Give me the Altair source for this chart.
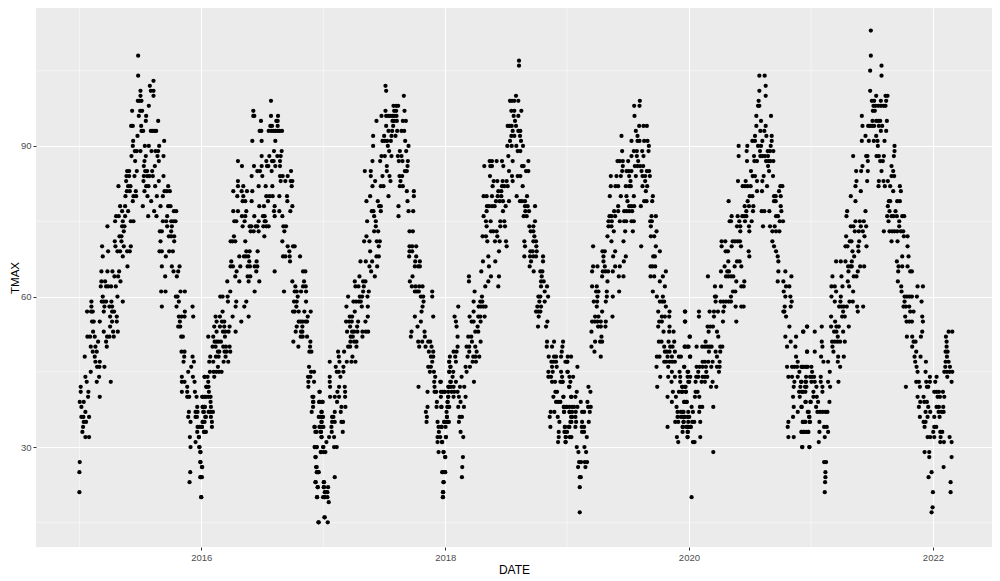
import altair as alt
import pandas as pd

# Each table: TMAX value -> days counted from 1 January of that year
Y2015 = {108:[176],104:[176],103:[222],102:[211],101:[183,214,222],100:[183,222],99:[175,180,186],98:[208],97:[158,182,188],96:[178,200],95:[199,236],94:[155,160,185],93:[186,191,214,220,226,230],92:[174],91:[161,254],90:[160,196,208,239],89:[166,172,183,216,228,236],88:[156,199,234,252],87:[167,195,238],86:[193,226],85:[143,149,172,197,203,218],84:[141,149,165,193,203,210,220,252],83:[140,192,238],82:[117,146,153,200,207,227,266],81:[142,151,169,195,255,262,271],80:[138,162,170,204,232,250],79:[160,215],78:[122,137,190,243,266,273],77:[128,146,224,283,290],76:[110,118,137,206,231,263],75:[107,130,154,162,250,260,275,282,288],74:[84,128,135,263,277],73:[133,241,247,275],72:[120,126,268,275,284],71:[106,126,243,284],70:[68,108,133,154],69:[86,114,122,143,151,240,247,269,280],68:[70,130,259],66:[144,247,277,300],65:[66,84,99,119,282,296],64:[105,116,257,292],63:[66,77,123],62:[64,80,86,95,109],61:[245,258,303,316],60:[70,114,289,294],59:[36,67,73,80,96,130,298],58:[36,75,90,98,247,291,339],57:[23,35,40,73,98,104,316],56:[92,112,298,306,315,341],55:[38,43,61,98,112,301],54:[92,296,302],53:[41,73,101,115],52:[24,32,46,83,90,103,305,310],51:[56,80],50:[34,48,82],49:[40,52,306,315],48:[16,46,314,339],47:[48,61,312,343],46:[53,60,75,335],45:[34,326],44:[18,59,307,340,375],43:[22,52,94,307,315,345],42:[4,323,380],41:[4,27,307,323,346],40:[26,61,323,329,351,368,375],39:[1,13],38:[6,353,370,376],37:[18,328,348,354,373],36:[6,12,29,326,348,352,377],35:[13,20,333,370],34:[11,354,367],33:[9,353,375],32:[18,29,331,358],31:[348],30:[333,359],29:[362],27:[1,363],26:[367],25:[0,332],24:[362,367],23:[330],21:[0],20:[365]}
Y2016 = {99:[209],97:[156],96:[156,159,209,230],95:[179,225,229],94:[207,212,229],93:[175,180,202,210,217,223,229,235,242],91:[153,181,222],89:[218,241],88:[181,204,228,238],87:[110,195,212,217,236],86:[122,158,181,197,201,222,236],85:[168,176,211,269],84:[151,183,236,244,259],83:[110,238,252,268,273],82:[110,126,172,193,213,271],81:[96,121,137,153],80:[108,126,195,205,214,234,257],79:[124,132,151,200,258],78:[174,188,220,273],77:[96,110,135,218,234,267],76:[122,132,159,185,190,220,243],75:[99,105,130,172,190,193],74:[124,145,150,163,168,186,195,202,246,254],73:[148,157,172,249],72:[98,189],71:[88,94,102,132,243],70:[259,275,280],69:[135,145,169,264],68:[114,128,134,141,245,252,265,296],67:[90,144,166,266],66:[88,95,117,139,146,160,168],65:[106,165,220,305,312],64:[102,139,147],63:[78,114,142,174,273,308],62:[282,305,313],61:[87,160,248,280,286,299,314],60:[57,64,79,289],59:[80,105,135,278,286,314],58:[103,129,285],57:[64,275,280,292,309,328],56:[43,56,94,142,319],55:[46,62,69,120,292,298,304,312,317],54:[39,56,69,85,286,303],53:[46,65,72,82,103,283,299,303],52:[21,36,71,298,304,317],51:[40,46,52,59,276,327],50:[34,43,66,74,85,291,326],49:[50,54,70,76,87,324,330],48:[27,44,52,73],47:[24,36,67,81],46:[50,323],45:[26,37,45,53,61,329,338],44:[10,19,39,320,327],43:[21,321,338],42:[16,22,321],41:[23,354],40:[4,14,21,28,333],39:[28,335,353,362],38:[4,10,29,335],37:[6,22,28,35,331,360],36:[14,29,352,362],35:[4,10,32,360],34:[-5,2,32,339,354,362],33:[8,14,342,358],32:[-7,360],30:[-5,340,346,365],29:[-2,358,367],28:[342],27:[-3],26:[3,344],25:[346,351],24:[-1],23:[342,367],22:[349,367],21:[370],20:[0,347,365,370],16:[369],15:[351]}
Y2017 = {102:[186],101:[188],100:[241],98:[210,218,224],97:[186,212,218,243],96:[174,188,194,200,207,212,219],95:[159,207,212,220,238,247],94:[188,209],93:[195,206,221,234,242],92:[149,182,204,216],91:[177,184,191,202,245],90:[149,193,255],89:[197,229,248],88:[174,184,204,223,234],87:[147,170,226,237,253],86:[190,252],85:[124,142,190,244,250],84:[142,177,198,228,236],83:[155,201,231],82:[147,172,180,229,238],81:[250,271],80:[140,195,271],79:[129,163,252],78:[167,172,225],77:[145,150,172,255,269],76:[152,225],75:[131,157],74:[157],73:[152,164,258,268],72:[129],71:[122,138,160,169],70:[166,258,266,278],69:[140,258,266],68:[159,166,257,278],67:[111,127,146,275,289],66:[138,161,274,284,289],65:[143],64:[108,154,267],63:[94,119,126,259],62:[96,105,121,265,276,287,297],61:[119,136,274,280,286,326],60:[74,109,116,132,292,299,326],59:[90,98,106,112,300],58:[69,115,133,297],57:[94,294],56:[79,86,133,274,329],55:[68,77,85,104,126,292],54:[80,101,282],53:[71,86,92,102,117,127,134,264,303],52:[82,88,117,262,304],51:[81,92,99,284,296,314,320],50:[74,80,99,287,306,324],49:[44,62,316,329],48:[46,87,322,329],47:[19,48,70,84,96,326,377],46:[37,60,314,322,380],45:[40,46,60,319,331,377],44:[19,51,335],43:[19,332,350,380],42:[20,47,64,285,333,376],41:[-11,42,65,312,333,338,352,362,374],40:[-30,20,34,47,65,352,374],39:[-30,-11,-2,41,340,372],38:[54,66,312,339,353,374],37:[-5,34,52,307,369],36:[-8,-1,26,30,310,370],35:[-5,26,34,54,59,309,342,362,372],34:[-26,-10,0,24,345,354],33:[-20,-7,25,58,346],32:[-5,17,32,342,350,367],31:[9,342,356],30:[-26,-20,0,32,40],29:[-7,6,345,360],28:[-23,365],26:[-20],25:[-18,-14,356,364],24:[34],23:[-23,2,360],22:[-17,2,14],21:[6,12,358],20:[-19,3,12,358],19:[16],16:[4],15:[-14,13]}
Y2018 = {107:[221],106:[221],100:[212],99:[194,200,207,219],97:[198,207,228],96:[205,219],95:[209],94:[187,192,199,212],93:[202,219,225],92:[198,207,224],91:[194,227],90:[186,199,213,233],89:[217,225],88:[189],87:[133,140,154,170,202,249],86:[117,135,140,174,230,235],85:[191,242,249],84:[134,200,217,225],83:[145,156,172,184,202],82:[142,170,177,187,232],81:[159,168],80:[115,124,140,157,168,214,245],79:[152,163,173,191,224,230,239],78:[125,131,140,148,181,239,247,269],77:[124,173,240,251],76:[115,235,244],75:[122,136,165,177,269],74:[124,165,179,252,264],73:[137,144,154,256,264],72:[112,122,156,267],71:[126,149,163,182,237,264,272],70:[184,239,273],69:[161,255,262,274],68:[129,237,254,264,272,293],67:[113,150,257,293],66:[131,253],65:[108,265,285,291],64:[71,137,161,289],63:[71,129,287,295],62:[120,159,287,305],61:[88,298],60:[110,279,285,308],59:[85,105,111,282,298],58:[39,100,107,114,121,276,287],57:[85,272,279,285],56:[28,73,99,105,118,280],55:[32,79,85,106,306],54:[34,97,278,302],53:[90,99],52:[37,69,78],51:[80,106,305,326,353],50:[37,64,72,90,304,320,351],49:[25,34,72,94,349],48:[14,30,67,84,91,102,310,326,332,347,367,377],47:[12,32,82,92,318,325,332,365],46:[16,61,74,320,334],45:[12,24,64,309,322,347,367],44:[22,49,309,317,350,372],43:[-13,17,32,86,320,329,345,352,375],42:[9,17,25,44,57,372],41:[-8,-1,19,27,37,330,335],40:[9,25,41,61,324,354,377],39:[7,46,332,339,345],38:[-11,6,12,39,56,355,363,372],37:[316,327,356,372],36:[5,43,50,313,337,377],35:[-3,3,11,41,342,375],34:[-11,1,315,359,370],33:[46,340,357,365],32:[2,54,340,361,373],31:[-10,338,361],29:[-5],28:[0,53],26:[51],25:[-8,0],24:[50],23:[-5],21:[-6],20:[-7]}
Y2019 = {99:[218],98:[201,217],96:[202],94:[216,229,239],93:[206],92:[163,211],91:[193,211,217,231,241],90:[245],89:[165,200,209,225,244],88:[193,209,229],87:[151,158,167,183,213],86:[167,203,211,219,228],85:[165,178,185,193,223,239,246],84:[131,148,161,186,206,226,234,248],83:[190,234],82:[131,145,153,176,186,191,226,240],81:[236],80:[128,161,178,200,257],79:[181,231,238,255],78:[153,186,193,201,221],77:[141,153,171,178,186,195],76:[127,133,144,253,266],75:[124,134,158,171,177,193,200,249,254],74:[124,133,251],73:[140,174,197,268],72:[121,251,261],71:[133,169],70:[78,222,266],69:[106,113,144,278],68:[109,138,176,258,263],67:[109,170],66:[78,91,113,144,158,250,256,264],65:[75,107,115,123,137,296],64:[105,155,169,250,261,287],63:[121,278],62:[75,89,293],61:[87,94,119,156,257],60:[91,119,137,269,287],59:[80,90,116,278,285,291],58:[89,296],57:[105,273,307,354],56:[84,94,136,284,293,306],55:[75,83,91,101,116,276,284,354],54:[93,101,115,273,307],53:[73,289,306,319],52:[103,368],51:[84,99,105,275,283,304,321],50:[73,291,309,316,354,361],49:[82,293,299,307,323],48:[101,269,277,301,314,335,341,368],47:[-5,1,291,297,307,315,323],46:[31,268,303,351],45:[1,314,337,361],44:[18,279,303,323,339,361],43:[-14,313,339,366],42:[6,64,270,345,355],41:[29,70,317,335,343,356],40:[-11,13,25,301,326],39:[41,61,314,351,359],38:[-9,-1,15,21,31,63,71,328],37:[-9,8,15,26,45,51,68,331,341,349,363],36:[15,25,331,341,351,366],35:[13,27,45,65,324,333,349,363],34:[-7,7,25,44,51,301,347,361,369],33:[-5,45,51,346,361],32:[-4,13,59,329,361],31:[-5,333],30:[29,52],29:[34,57],27:[36,42,53,60],26:[33,55],24:[38,41],22:[38],17:[38]}
Y2020 = {104:[211,227],102:[230],101:[211],100:[230],99:[209],98:[207,211],96:[202,246],95:[216],94:[202,230],93:[214,226],92:[198,232,248],91:[190,198,220,248],90:[149,175,207,216,245],89:[173,213,236,243,253],88:[149,195,214,221,228,237],87:[174,196,204,231,238,244,253],86:[237],85:[186,240],84:[191,198,224,252],83:[147,170,204,220],82:[161,168,176,185,234,274,280],81:[204,219,270],80:[182,190,255,260,275],79:[119,176,255,260],78:[167,180,193,275],77:[172,192,218,226,241,277],76:[128,146,160,166,172,261,267],75:[122,126,151,168,188,272,282],74:[144,154,180,222,243,257],73:[154,181,250,261,271],71:[98,109,131,138,146,153,250],70:[98,128,156,255],69:[110,117,179,261],68:[181,266],67:[118,144,152,268],66:[107,137,157],65:[96,115,120,268,289],64:[57,111,118,126,133,307],63:[142,166,266,283],62:[78,96,157,164,291,301],61:[132,139,284],60:[78,81,126,289,304],59:[80,95,103,111,119,126,308],58:[106,140,157,164,287,305],57:[-12,30,62,75,87,103,283,286],56:[30,75,291],55:[-12,102,142],54:[56,64,72,301,354],53:[59,84,342],52:[2,88,289,321],51:[50,305],50:[-13,-1,23,40,48,55,62,68,94,100,294,319],49:[60,80,94,354],48:[4,84,321],47:[41,48,58,71,92,326],46:[-14,23,32,41,51,67,84,92,294,309,316,324,339,348,356],45:[-2,28,52,90,331],44:[4,22,28,41,48,55,298,309,326,351],43:[-2,20,38,48,71,316,336,349],42:[-20,-12,66,82,314,334,348],41:[-19,-9,20,26,330,338],40:[18,31,312,332],39:[-14,-8,349,364],38:[8,33,40,73,314,338],37:[-19,12,31,326,356],36:[-19,-12,-4,312,360],35:[-16,10,16,34,298,341,348,361],34:[-19,-8,-2,6,296],33:[-3,338,344,351,358],32:[-4,34,298,314],31:[12,17],30:[339,361],29:[73],20:[8]}
Y2021 = {113:[179],108:[179],106:[211],105:[177],104:[211],101:[177],100:[195,223,229],99:[182,189,209,225],98:[187,193,201,209,217,223],97:[185,191],96:[152],95:[184,195,201,207,227],94:[154,171,177,183,189,203,213],93:[209,225],92:[163,195],91:[152,173,188,199,220],90:[200,250],89:[250],88:[126,165,169,196,203,218,248],87:[170,207,215],86:[154,241],85:[135,150,170,211,246],84:[241,249],83:[136,168,203,217,230],82:[133,202,221,237,266],81:[149,246,269],80:[119],79:[133,233,237,258,266],78:[230],77:[108,163,235,253],76:[106,228,241,247,257,273,279],75:[133,146,158,232,264],74:[119,127,149,165,264],73:[131,143,155,218,235,243,250,258,269,276],72:[105,160,278,289],71:[116,121,144,241,259],70:[103,109,141,166,289],69:[124,142],68:[129,273,292],67:[75,89,103,122,257],66:[111,118,122,147,159,262,273,289],65:[112,140,261,297,302],64:[64,91,128,136],63:[110,260],62:[61,71,94,114,270,319,335],61:[75,126,271],60:[61,89,280,287,295,302,317],59:[71,88,115,125,280,331],58:[84,91,98,107,138,156,277,284,294],57:[96,140,297,307],56:[60,93,101,282,333],55:[72,286,294,302,335],54:[-12,32,60,76,83,113],53:[-23,11,69,76,96,333,412,423],52:[80,287,303,329,404],51:[32,63,71,79,87,101,307,313,406],50:[34,64,303,406],49:[-12,11,67,315,403,409],48:[30,81,98,310,328,407],47:[37,51,80,312,344,403,412],46:[-29,-24,-14,1,87,316,402,416],45:[3,56,319,343,399,407,415,423],44:[-3,3,9,29,356,376,408],43:[-29,-15,1,11,29,51,82,315,323,345,356,372,421],42:[-14,16,34,57,284,326,347,351],41:[-24,-17,7,34,369,376,383,395],40:[7,17,319,337,379,386,399],39:[-16,-1,21,55,327,339,347],38:[-29,15,323,351,376,383,396],37:[-7,19,27,35,43,49,343,357,382,391,397],36:[-5,326,349,369,385],35:[-24,-18,-3,25,337,343],34:[39,47,340,369,375],33:[-29,-21,-9,25,51,366,387,393],32:[41,349,357,369,388,415],31:[23,387,398,421],30:[-26,-5],29:[340,354],28:[354,421],27:[39,45],26:[397],25:[43,361],24:[43,352],23:[42,418],21:[41,365,418],18:[364],17:[361]}

TABLES = {2015: Y2015, 2016: Y2016, 2017: Y2017, 2018: Y2018, 2019: Y2019, 2020: Y2020, 2021: Y2021}
MAJOR_X = ["2016-01-01", "2018-01-01", "2020-01-01", "2022-01-01"]
MINOR_X = ["2015-01-01", "2017-01-01", "2019-01-01", "2021-01-01"]
MAJOR_Y = [30, 60, 90]
MINOR_Y = [15, 45, 75, 105]
X_DOMAIN = ["2014-08-24", "2022-06-27"]
Y_DOMAIN = [10.08, 117.5]

rows = []
for year, table in TABLES.items():
    base = pd.Timestamp(f"{year}-01-01")
    for value, days in table.items():
        for d in days:
            rows.append({"DATE": (base + pd.Timedelta(days=d)).strftime("%Y-%m-%d"), "TMAX": value})
df = pd.DataFrame(rows)

x_scale = alt.Scale(type="utc", domain=X_DOMAIN)
y_scale = alt.Scale(domain=Y_DOMAIN, nice=False, zero=False)
FONT = "Liberation Sans"

x_axis = alt.Axis(values=MAJOR_X, labelExpr="utcFormat(datum.value, '%Y')", grid=True,
                  gridColor="white", gridWidth=1, domain=False, tickColor="#333333",
                  tickSize=3, tickWidth=1, labelColor="#4D4D4D", labelFontSize=9.5,
                  labelFont=FONT, labelPadding=2, titleFont=FONT, titleFontSize=12,
                  titleFontWeight="normal", titleColor="black", titlePadding=3,
                  labelOverlap=False)
y_axis = alt.Axis(values=MAJOR_Y, grid=True, gridColor="white", gridWidth=1, domain=False,
                  tickColor="#333333", tickSize=3, tickWidth=1, labelColor="#4D4D4D",
                  labelFontSize=9.5, labelFont=FONT, labelPadding=2, titleFont=FONT,
                  titleFontSize=11.5, titleFontWeight="normal", titleColor="black",
                  titlePadding=0)

minor_v = alt.Chart(pd.DataFrame({"DATE": MINOR_X})).mark_rule(color="white", strokeWidth=0.5).encode(
    x=alt.X("DATE:T", scale=x_scale, title="DATE", axis=x_axis))
minor_h = alt.Chart(pd.DataFrame({"TMAX": MINOR_Y})).mark_rule(color="white", strokeWidth=0.5).encode(
    y=alt.Y("TMAX:Q", scale=y_scale, title="TMAX", axis=y_axis))

points = alt.Chart(df).mark_circle(color="black", opacity=1, size=18).encode(
    x=alt.X("DATE:T", scale=x_scale, title="DATE", axis=x_axis),
    y=alt.Y("TMAX:Q", scale=y_scale, title="TMAX", axis=y_axis),
)

chart = (minor_v + minor_h + points).properties(
    width=956, height=539, background="white",
    autosize=alt.AutoSizeParams(type="none"),
    padding={"left": 28, "top": 0, "right": 0, "bottom": 33},
).configure_view(fill="#EBEBEB", stroke=None)

chart.save("out.html", embed_options={"renderer": "svg", "actions": False})
